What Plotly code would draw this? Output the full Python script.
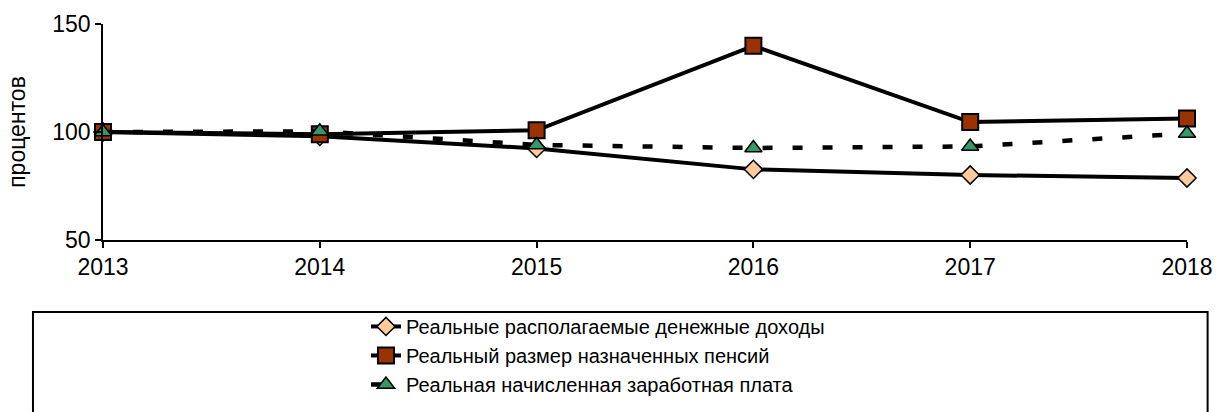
import plotly.graph_objects as go

years = [2013, 2014, 2015, 2016, 2017, 2018]
income = [100, 98.0, 92.4, 82.7, 80.1, 78.7]
pensions = [100, 99.0, 100.8, 139.9, 104.6, 106.2]
wages = [100, 100.3, 94.0, 92.6, 93.3, 99.3]

names = [
    "Реальные располагаемые денежные доходы",
    "Реальный размер назначенных пенсий",
    "Реальная начисленная заработная плата",
]

FONT = "Liberation Sans, Arial, sans-serif"

fig = go.Figure()
fig.add_trace(go.Scatter(
    x=years, y=income, name=names[0], mode="lines+markers",
    line=dict(color="black", width=4),
    marker=dict(symbol="diamond", size=14, color="#FFCC99", line=dict(color="black", width=1.5)),
    cliponaxis=False,
))
fig.add_trace(go.Scatter(
    x=years, y=pensions, name=names[1], mode="lines+markers",
    line=dict(color="black", width=4),
    marker=dict(symbol="square", size=16, color="#993300", line=dict(color="black", width=2)),
    cliponaxis=False,
))
fig.add_trace(go.Scatter(
    x=years, y=wages, name=names[2], mode="lines+markers",
    line=dict(color="black", width=4.5, dash="10px,20px"),
    marker=dict(symbol="triangle-up", size=15, color="#339966", line=dict(color="black", width=1.5)),
    cliponaxis=False,
))

fig.update_layout(
    width=1216, height=412,
    margin=dict(l=103, r=29, t=24, b=172, autoexpand=False),
    paper_bgcolor="white", plot_bgcolor="white",
    font=dict(family=FONT, color="black", size=20),
    showlegend=True,
    legend=dict(
        x=0.2426, xanchor="left", y=-0.31, yanchor="top",
        bgcolor="rgba(0,0,0,0)", borderwidth=0,
        font=dict(size=20, family=FONT), tracegroupgap=0,
    ),
    shapes=[dict(type="rect", xref="paper", yref="paper",
                 x0=-0.0646, x1=1.019, y0=-0.9, y1=-0.333,
                 line=dict(color="black", width=2), fillcolor="rgba(0,0,0,0)")],
)
fig.update_xaxes(
    range=[2013, 2018], tickvals=years, ticktext=[str(y) for y in years],
    showline=True, linecolor="black", linewidth=1.5, automargin=False,
    ticks="outside", ticklen=6, tickcolor="black", tickwidth=1.5,
    showgrid=False, zeroline=False, tickfont=dict(size=23, family=FONT),
)
fig.update_yaxes(
    range=[50, 150], tickvals=[50, 100, 150],
    showline=True, linecolor="black", linewidth=1.5, automargin=False,
    ticks="outside", ticklen=6, tickcolor="black", tickwidth=1.5,
    showgrid=False, zeroline=False, tickfont=dict(size=23, family=FONT),
    title=dict(text="процентов", font=dict(size=23, family=FONT), standoff=20),
)

fig.write_html(
    "out.html",
    config={"displayModeBar": False},
    post_script="document.body.style.margin='0';document.body.style.overflow='hidden';",
)
